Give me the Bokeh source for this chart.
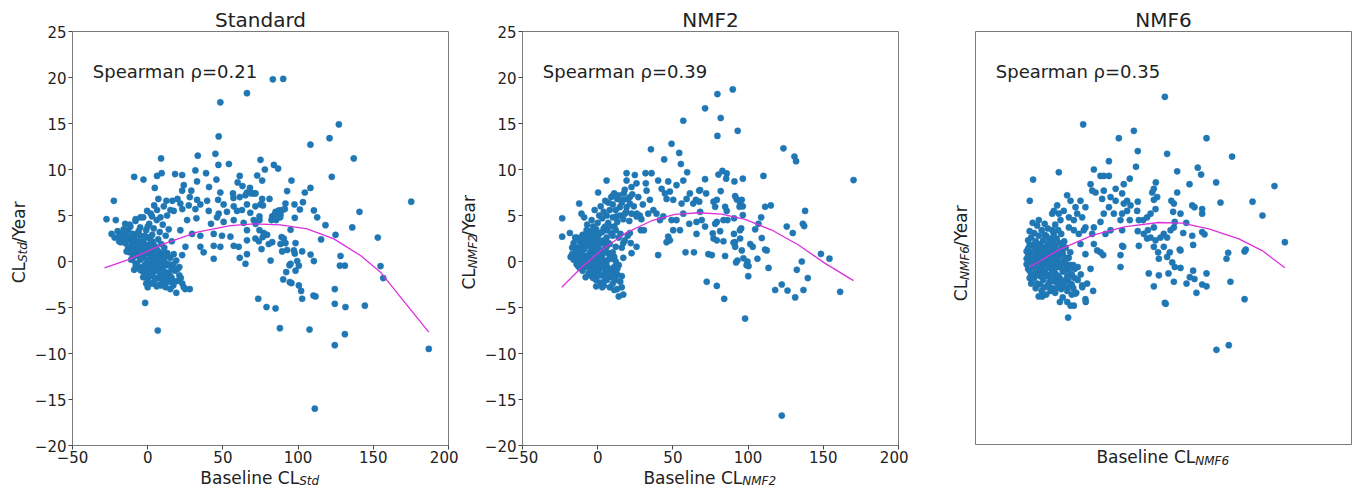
from math import pi
from bokeh.plotting import figure
from bokeh.layouts import row, column
from bokeh.models import Range1d, FixedTicker, Label
from bokeh.embed import file_html
from bokeh.resources import INLINE

FONT = "DejaVu Sans"
TXT = "#222222"
DOT = "#1f77b4"
FIT = "#dd30dd"

x_ticks = [-50, 0, 50, 100, 150, 200]
x_tick_labels = ["\u221250", "0", "50", "100", "150", "200"]
y_ticks = [-20, -15, -10, -5, 0, 5, 10, 15, 20, 25]
y_tick_labels = ["\u221220", "\u221215", "\u221210", "\u22125", "0", "5", "10", "15", "20", "25"]

titles = ["Standard", "NMF2", "NMF6"]
subscripts = ["Std", "NMF2", "NMF6"]
rho_texts = ["Spearman \u03c1=0.21", "Spearman \u03c1=0.39", "Spearman \u03c1=0.35"]

# ---------------- Standard ----------------
std_points = [
    (66, 18.3), (48.3, 17.3), (47.2, 13.6), (6.7, -7.5), (-1.7, -4.5), (8.9, 11.2), (33.3, 11.5), (45, 11.7),
    (54, 10.6), (47, 10.5), (-9, 9.2), (-2.8, 8.9), (6.2, 9.3), (9.3, 9.6), (18.2, 9.5), (22.9, 9.4), (31.7, 9.9),
    (38.8, 9.6), (61.2, 9.3), (45.7, 8.9), (32.8, 8.7), (59.8, 8.6), (4.7, 8.0), (24, 8.3), (22.9, 7.7), (29, 7.7),
    (40.8, 8.1), (48.3, 7.5), (56.7, 7.4), (66, 7.5), (70.5, 7.4), (-22.5, 6.6), (7.1, 6.8), (12.4, 6.6), (16.4, 6.6),
    (19.8, 6.8), (28, 7.0), (32.8, 6.7), (39.5, 6.6), (46.8, 6.7), (57, 6.9), (61.2, 7.0), (65, 7.2), (68.9, 7.4),
    (4.3, 6.1), (10.7, 6.0), (21.7, 6.3), (27.3, 6.1), (35, 6.2), (50.5, 6.2), (57.2, 6.0), (66, 6.2), (71.6, 6.0),
    (-0.4, 5.5), (6.2, 5.6), (15.1, 5.6), (17.3, 5.5), (23, 5.7), (31.7, 5.7), (40.6, 5.5), (47.2, 5.2), (52.7, 5.4),
    (59.4, 5.5), (62.7, 5.6), (68.2, 5.3), (-4.8, 4.8), (2.9, 4.9), (8.5, 4.8), (12.9, 5.0), (26.2, 4.5), (32.4, 4.7),
    (42.1, 4.1), (46.1, 4.8), (50.5, 4.3), (57.2, 4.5), (63.8, 4.2), (70.5, 4.5), (-27.4, 4.6), (-21.2, 4.5),
    (-15, 4.1), (-11.5, 3.8), (-8.1, 4.4), (21.7, 3.4), (29.5, 3.0), (35, 2.8), (43.9, 3.0), (49.4, 2.8), (55, 2.7),
    (66, 3.4), (25.1, 1.6), (35, 1.6), (37.2, 1.0), (43.9, 1.7), (48.3, 1.6), (57.2, 1.7), (60.5, 1.6), (66, 2.3),
    (71.6, 2.5), (17.3, 0.8), (22.9, 0.7), (43.9, 0.3), (61.2, 0.4), (65, -0.25), (66, 0.8), (63, 8.2), (68, 8.0),
    (83.2, 19.8), (90.1, 19.85), (127.1, 14.9), (120.9, 13.4), (108.2, 12.7), (137, 11.2), (75, 11.05), (83.9, 10.5),
    (86.7, 10.1), (77.9, 10.0), (72.8, 9.35), (76.1, 8.8), (95.6, 8.8), (122.4, 9.2), (108.2, 8.0), (104.5, 7.5),
    (92.7, 7.65), (76.1, 6.8), (81, 6.8), (71.7, 7.4), (75, 6.2), (76.6, 6.1), (175.2, 6.5), (97.6, 6.2), (91.6, 6.3),
    (103.2, 6.45), (101.2, 5.65), (110.5, 5.55), (140.8, 5.4), (112.7, 4.8), (85, 5.4), (87.2, 5.55), (89.4, 5.6),
    (91.2, 5.7), (82.8, 4.9), (84.5, 5.1), (88.3, 5.1), (74.3, 4.9), (74.3, 4.5), (82.3, 4.5), (85.4, 4.5),
    (88.1, 4.8), (97.8, 4.75), (95, 3.45), (118.2, 3.95), (136, 3.7), (124.9, 2.9), (115.3, 2.4), (153, 2.6),
    (71.7, 4.1), (74.3, 3.4), (77.2, 3.1), (79.4, 2.9), (76.5, 2.65), (73.9, 2.2), (80.5, 1.9), (75.7, 1.35),
    (88.3, 1.9), (91.6, 2.0), (89, 2.65), (90.5, 2.5), (98.3, 2.0), (82.8, 2.1), (89.4, 1.1), (92.7, 1.25),
    (97.2, 1.2), (97.8, 0.85), (102.7, 1.1), (108.3, 0.75), (110.5, 0.05), (81.7, 0.1), (95, -0.25), (94.3, -0.4),
    (99.4, 0.05), (100.5, -0.45), (98.3, -1.0), (92.1, -1.15), (95.6, -2.35), (94.5, -2.25), (90.1, -1.95),
    (100.5, -2.6), (102, -3.2), (102.7, -4.05), (110.2, -3.7), (111.6, -3.8), (124.4, -3.0), (128.2, 0.6),
    (131.1, -0.45), (127.8, -0.45), (154.8, -0.5), (156.6, -1.8), (124.4, -4.6), (131.5, -4.95), (144.4, -4.8),
    (73.5, -4.05), (79, -4.95), (85, -5.1), (87.9, -7.25), (107.6, -7.4), (131.1, -7.9), (124.4, -9.1),
    (186.9, -9.5), (111.1, -16.0),
]
std_cluster = [
    (-20, 3.3), (-19, 2.7), (-18, 3.0), (-17, 2.4), (-16, 3.5), (-15, 2.0), (-14, 2.8), (-13, 1.6), (-12, 2.4),
    (-11, 1.1), (-10, 3.0), (-10, 1.8), (-9, 0.6), (-9, 2.5), (-8, 1.4), (-8, -0.2), (-7, 2.1), (-7, 0.9), (-6, -0.6),
    (-6, 1.6), (-5, 0.2), (-5, 2.8), (-4, 1.2), (-4, -1.0), (-3, 0.5), (-3, 2.2), (-2, -0.4), (-2, 1.6), (-1, -1.4),
    (-1, 0.9), (0, 0.1), (0, 2.6), (0, -2.0), (1, 1.3), (1, -0.8), (2, 0.4), (2, -1.6), (2, 2.0), (3, -0.2), (3, 1.0),
    (4, -2.3), (4, 0.6), (4, -1.1), (5, 1.6), (5, -0.5), (6, -1.8), (6, 0.2), (7, -0.9), (7, 1.1), (8, -2.5),
    (8, -0.1), (9, -1.4), (9, 0.7), (10, -0.6), (10, -2.0), (11, -1.1), (11, 0.3), (12, -2.8), (12, -1.6),
    (13, -0.4), (14, -2.2), (14, -1.2), (15, -3.0), (16, -1.8), (17, -2.6), (18, -1.0), (19, -3.4), (20, -2.1),
    (21, -1.5), (23, -2.4), (25, -3.0), (28, -3.0), (22, -1.8), (24, -2.8), (-12, 4.0), (-8, 4.6), (-5, 3.7),
    (-3, 4.8), (-1, 3.4), (1, 4.1), (2, 5.2), (4, 3.6), (6, 4.5), (8, 3.2), (10, 4.0), (12, 2.8), (14, 3.5),
    (16, 2.2), (-6, 3.3), (0, 3.8), (3, 2.9), (7, 2.4), (9, 1.9), (11, 1.5), (13, 0.9), (15, 0.4), (17, -0.3),
    (19, 0.1), (21, -0.6), (-4, 0.4), (-2, 0.8), (0, 1.0), (2, -0.5), (4, 0.0), (6, -0.8), (8, -1.2), (-6, 0.6),
    (-1, -0.2), (1, 0.2), (3, -1.4), (5, -1.0), (7, -1.8), (-3, -0.6), (-7, 1.4), (-9, 1.7), (-11, 2.2),
    (-13, 2.6), (-15, 3.0), (-12, 1.0), (-10, 0.4), (-8, -0.6), (-5, -0.9), (-2, -1.2), (0, -1.0), (3, 0.3),
    (5, 0.5), (9, -0.4), (10, -1.4), (12, -0.2), (-24, 3.0), (-22, 2.6), (-19, 2.2),
    (-11, 0.2), (-10, 1.2), (-9, -0.9), (-7, -0.3), (-6, 2.2), (-5, 1.1), (-4, 2.0), (-3, -1.7), (-2, 2.8),
    (-1, 1.8), (0, -0.4), (1, -1.6), (1, 2.6), (2, 1.4), (3, 2.2), (4, 1.8), (5, -1.9), (6, 1.3), (7, 0.3),
    (8, 0.6), (9, -2.6), (10, 0.9), (11, -2.4), (12, 0.7), (13, -2.0), (14, -0.3), (15, -1.6), (16, -0.8),
    (18, -2.2), (20, -0.8), (-14, 1.1), (-16, 2.6), (-18, 2.1), (-13, 3.4), (-10, 2.4), (-7, 3.0), (0, -2.8),
    (3, -2.4), (6, -2.7), (-1, -2.4),
]
std_curve_x = [-28.7, -11.4, 10.7, 32.9, 55.1, 70.6, 88.3, 106, 123.8, 141.5, 154.8, 168.1, 186.9]
std_curve_y = [-0.69, 0.29, 1.92, 3.19, 3.91, 4.09, 3.99, 3.55, 2.46, 0.65, -1.16, -3.88, -7.68]

# ---------------- NMF2 ----------------
nmf2_points = [
    (56.9, 15.3), (49.1, 12.8), (35.4, 12.2), (44.2, 11.1), (54.2, 11.8), (55.3, 10.6), (58.4, 1.0), (64, 1.0),
    (65.7, 3.0), (67.5, 6.5), (67.5, 7.7), (59.5, 9.7), (56.9, 8.8), (52.4, 8.3), (61.3, 7.4), (59.1, 6.8),
    (55.8, 6.3), (63.5, 6.3), (65.3, 6.7), (56.9, 5.2), (52.4, 4.5), (50.2, 3.4), (54.7, 3.4), (60.9, 4.1),
    (65.7, 4.3), (46.9, 2.7), (48, 2.3), (45.8, 2.1), (49.1, 4.5), (43.6, 4.9), (39.1, 5.2), (41.4, 4.5), (37, 5.6),
    (33.6, 5.2), (34.7, 6.7), (32.5, 7.7), (32, 8.5), (35.8, 9.6), (31.8, 9.6), (40.2, 8.8), (42.5, 7.9),
    (44.7, 7.4), (48, 7.6), (45.8, 6.8), (50.2, 6.7), (46.9, 8.7), (40.2, 0.7), (25.8, 1.6), (21.4, 3.1),
    (28.7, 3.4), (30.7, 3.4), (25.8, 4.9), (22.5, 5.2), (28, 5.0), (19.2, 5.9), (17, 6.7), (21.4, 6.3), (18.1, 5.2),
    (22.5, 8.1), (21.4, 7.0), (17.4, 7.4), (19.2, 9.6), (19.2, 8.8), (24.7, 9.4), (25.8, 8.5), (14.7, 5.9),
    (12.5, 4.9), (15.2, 3.0), (17, 2.0), (10.3, 7.2), (5.9, 8.8), (0.3, 7.5), (-12.3, 6.3), (-23.6, 4.7),
    (-23.6, 2.7), (-18.5, 3.1), (-10.8, 5.2), (-7.4, 3.4), (17, 0.4), (22.5, 0.9),
    (79.6, 18.2), (89.8, 18.7), (71.4, 16.65), (81.8, 15.6), (79.6, 13.65), (93.1, 14.2),
    (80.3, 9.45), (82.9, 9.85), (85.8, 9.57), (85.4, 9.0), (71.4, 8.95), (90.9, 8.7), (96.5, 9.0), (110.2, 9.3),
    (68.1, 7.76), (72.1, 7.4), (81.8, 7.65), (77, 6.5), (79.2, 6.7), (78.1, 5.95), (84.7, 5.95), (85.8, 5.5),
    (91.4, 7.1), (92.5, 6.75), (94.7, 6.3), (95.8, 6.7), (96.5, 6.0), (94.3, 5.95), (111.3, 5.95), (115.1, 6.1),
    (137.9, 5.5), (108.7, 4.8), (69.2, 4.5), (71.4, 3.8), (78.1, 4.1), (79.2, 4.3), (83.6, 4.5), (86.3, 4.5),
    (90.7, 4.7), (96.5, 5.05), (81.4, 3.3), (76.5, 3.05), (77, 2.5), (79.2, 2.3), (83.6, 2.2), (95.4, 3.6),
    (104.7, 3.5), (106.9, 4.1), (125.7, 3.8), (129.7, 3.1), (136.4, 4.1), (137.3, 3.85), (94.7, 2.5), (90.3, 2.05),
    (91.4, 1.6), (95.8, 1.2), (101.4, 1.9), (103.1, 1.6), (109.1, 2.55), (111.3, 1.3), (112.4, 1.2), (73.6, 0.8),
    (75.9, 0.7), (84.7, 0.6), (92, -0.1), (92.9, 0.1), (96.9, 0.35), (99.6, 0.0), (100.3, -0.5), (106.2, 0.3),
    (113.6, -0.7), (72.5, -2.2), (79.2, -2.65), (84.1, -4.06), (98, -6.2), (122.4, -16.75), (118, -3.1),
    (122.4, -2.5), (126.2, -3.16), (131.3, -3.9), (136.8, -3.1), (132.4, -0.9), (135.7, 0.0), (139.7, -1.8),
    (148.4, 0.82), (154.1, 0.31), (161.2, -3.3), (170.1, 8.85), (123.5, 12.3), (130.8, 11.4), (131.9, 10.9),
    (68.1, 5.4), (100.1, -1.6), (99, -0.4), (94.6, 3.4), (90.6, 3.0), (91.3, 2.1),
]
nmf2_cluster = [
    (-18, 0.5), (-17, 1.5), (-16, 0.2), (-16, 2.0), (-15, 0.9), (-14, -0.3), (-14, 2.6), (-13, 1.4), (-13, 0.1),
    (-12, 2.2), (-12, -0.7), (-11, 0.8), (-11, 1.8), (-10, -1.0), (-10, 2.9), (-10, 0.3), (-9, 1.3), (-9, -0.4),
    (-8, 2.4), (-8, 0.6), (-8, -1.7), (-7, 1.7), (-7, -0.6), (-6, 0.1), (-6, 2.9), (-6, -1.3), (-5, 1.0), (-5, 2.0),
    (-5, -0.2), (-4, -1.6), (-4, 0.6), (-4, 2.6), (-3, -0.5), (-3, 1.5), (-3, 3.2), (-2, 0.2), (-2, -1.1),
    (-2, 2.1), (-1, 0.9), (-1, -2.0), (-1, 3.5), (0, -0.3), (0, 1.6), (0, -1.4), (0, 2.6), (1, 0.4), (1, -0.9),
    (1, 3.0), (2, -2.3), (2, 1.2), (2, -0.2), (3, 2.0), (3, -1.5), (3, 0.7), (4, -0.6), (4, 3.6), (4, -2.6),
    (5, 1.4), (5, -1.2), (5, 0.1), (6, 2.6), (6, -2.0), (6, -0.5), (7, 0.9), (7, -1.6), (7, 4.2), (8, -0.9),
    (8, 1.9), (8, -2.8), (9, 0.3), (9, -1.7), (9, 3.1), (10, -1.2), (10, -2.4), (11, 0.5), (11, -0.6), (12, -2.0),
    (12, 1.6), (13, -1.4), (13, -3.0), (14, -0.4), (15, -2.2), (16, -1.6), (16, -2.8), (14, -3.8), (17, -3.6),
    (11, -3.1), (-1, -2.7), (3, -2.8), (-7, 4.0), (-4, 4.5), (-2, 5.6), (0, 4.2), (1, 5.0), (2, 6.0), (3, 4.7),
    (4, 5.4), (5, 6.6), (5, 3.8), (6, 5.0), (7, 6.4), (8, 5.6), (9, 7.0), (10, 4.8), (10, 6.2), (11, 7.4),
    (11, 3.8), (12, 5.6), (13, 6.8), (13, 4.3), (14, 7.2), (15, 5.0), (16, 6.4), (17, 4.6), (18, 7.8), (19, 5.4),
    (20, 6.8), (21, 4.4), (23, 7.3), (24, 6.0), (26, 5.2), (27, 7.0), (29, 4.6), (30, 6.2), (-9, 4.8), (-6, 3.3),
    (-3, 3.8), (-1, 2.2), (1, 1.9), (4, 2.3), (6, 3.4), (8, 3.8), (10, 2.8), (12, 3.4), (14, 2.6), (16, 1.5),
    (18, 2.3), (20, 2.8), (22, 2.0), (-15, 2.6), (-11, -0.2), (-7, 0.6), (-3, -1.8), (-1, 0.1), (2, 0.6),
    (-13, -0.5), (-12, 0.9), (-11, 2.6), (-10, 1.4), (-9, 0.0), (-9, 2.1), (-8, -0.3), (-7, 2.6), (-6, -0.6),
    (-5, -0.9), (-4, 1.3), (-3, 0.6), (-2, -0.5), (-1, 1.5), (0, 0.6), (1, -1.5), (1, 2.2), (2, 0.2), (3, -0.6),
    (4, 1.0), (5, -2.0), (6, 0.0), (7, 2.0), (8, 0.4), (9, -0.8), (10, 1.0), (11, -1.8), (12, 0.0), (13, -0.8),
    (-15, 1.6), (-17, 0.8), (-14, 0.5), (6, 1.6), (3, 3.2), (-2, 3.0),
]
nmf2_curve_x = [-23.9, -10.6, 2.7, 18.2, 35.9, 51.4, 67, 82.5, 98, 115.7, 133.5, 151.2, 170.1]
nmf2_curve_y = [-2.8, -0.63, 1.25, 3.05, 4.43, 5.12, 5.3, 5.15, 4.57, 3.42, 1.79, -0.2, -2.08]

# ---------------- NMF6 ----------------
nmf6_points = [
    (75.9, 17.9), (21.6, 14.9), (55.3, 14.2), (45.3, 13.4), (57.9, 12.0), (77.4, 11.7), (38.7, 10.9), (56.7, 10.3),
    (84.1, 9.8), (28.7, 10.0), (5.4, 9.7), (-11.7, 8.9), (69.9, 8.6), (-13.9, 6.6), (85.8, 1.3), (75.9, -4.5),
    (76.5, -4.6), (65.2, -1.3), (68.6, -2.7), (71.9, -1.5), (78.3, -1.3), (81.9, -2.2), (82.5, -0.6), (80.8, -0.1),
    (77.4, 0.5), (79.2, 1.0), (75.2, 1.6), (71.9, 0.3), (71.4, 1.0), (68.6, 1.6), (69.7, 2.3), (66.4, 2.6),
    (64.1, 2.5), (61.9, 3.0), (58.6, 1.7), (57.9, 3.3), (64.6, 3.4), (68.6, 3.7), (73, 2.6), (75.2, 3.0),
    (77.4, 2.6), (79.7, 3.4), (81.9, 3.7), (82.5, 4.3), (86.3, 5.2), (81.4, 5.4), (81.9, 6.3), (80.2, 6.6),
    (84.1, 7.5), (70.8, 7.0), (67.5, 7.5), (68.6, 7.9), (68.6, 6.7), (69.7, 5.7), (66.4, 5.2), (64.1, 4.8),
    (61.5, 4.5), (58.6, 4.5), (57.5, 5.5), (57.9, 6.5), (53.1, 6.1), (50.8, 5.5), (50.8, 6.6), (48.6, 6.3),
    (47.5, 5.2), (46.4, 4.5), (52.6, 4.5), (47.5, 3.4), (47.5, 1.7), (46.4, 0.7), (48.2, 1.6), (39.8, 3.4),
    (36.4, 3.0), (33.1, 1.0), (34.9, 0.7), (30.9, 1.2), (28.7, 1.9), (27.6, 3.0), (28.7, 3.7), (33.1, 4.3),
    (35.3, 5.2), (38.7, 5.9), (42, 5.2), (43.2, 6.6), (39.8, 7.0), (35.3, 7.7), (34.2, 6.8), (26.5, 8.4),
    (27.6, 7.7), (29.8, 7.5), (33.1, 9.3), (35.3, 9.3), (38.7, 9.3), (43.2, 7.9), (47.5, 7.4), (48.6, 8.4),
    (52.6, 9.0), (46.4, -0.6), (23.1, 5.9), (19.8, 6.6), (16.5, 5.9), (13.2, 6.6), (10.9, 7.2), (23.1, 3.7),
    (20.9, 4.8), (17.6, 5.2), (15.4, 4.5), (12.1, 4.8), (8.7, 5.5), (5.4, 5.2), (2.1, 5.5), (4.3, 6.1),
    (6.5, 4.5), (12.1, 3.7), (15.4, 3.4), (18.7, 3.0), (22, 3.4), (19.8, 1.9), (23.1, 0.8), (26.5, -0.8),
    (28.2, -3.2), (23.1, -4.1), (23.3, -4.4), (15.4, -4.8), (13.2, -4.8), (11.6, -6.1), (6.1, -4.4),
    (-5.7, -3.8), (16.3, -3.5), (-0.1, -3.2), (3.2, -3.0), (11, -2.8), (20.9, -2.6), (24.2, -2.4), (-7.9, 4.5),
    (1, 5.2),
    (103.6, 13.4), (120.6, 11.4), (97.8, 10.2), (100.0, 9.45), (92.3, 8.4), (110, 8.6), (148.8, 8.2), (94.1, 6.1),
    (95.6, 5.9), (100.7, 5.7), (100.7, 5.2), (112.9, 6.4), (134.2, 6.5), (140.8, 5.0), (155.7, 2.1), (90.1, 4.2),
    (88.1, 3.1), (94.1, 2.8), (94.7, 1.8), (100.7, 3.2), (102.3, 2.95), (86.3, 1.2), (118, 0.95), (116.9, 0.3),
    (128.9, 1.1), (129.7, 1.3), (86.3, -0.7), (94.7, -1.0), (92.5, -1.7), (95.6, -1.9), (90.3, -2.4), (103.6, -1.3),
    (100.7, -2.5), (103.6, -2.7), (96.9, -3.4), (119.5, -2.2), (128.9, -4.1), (110.2, -9.6), (118.4, -9.1),
]
nmf6_cluster = [
    (-15, 0.6), (-15, -0.8), (-14, 1.8), (-14, 0.0), (-13, -1.4), (-13, 1.0), (-13, 2.6), (-12, 0.3), (-12, -0.6),
    (-12, 1.8), (-11, -1.8), (-11, 0.9), (-11, 3.1), (-10, -0.2), (-10, 2.2), (-10, -1.2), (-9, 1.4), (-9, 0.2),
    (-9, -2.4), (-8, 2.8), (-8, -0.8), (-8, 0.8), (-7, -1.6), (-7, 1.9), (-7, 0.0), (-6, -0.5), (-6, 3.4),
    (-6, 1.2), (-5, -2.0), (-5, 0.4), (-5, 2.3), (-4, -1.0), (-4, 1.5), (-4, -2.8), (-3, 0.8), (-3, -0.3),
    (-3, 2.8), (-2, -1.6), (-2, 0.1), (-2, 1.9), (-1, -0.7), (-1, 1.1), (-1, -2.3), (0, 0.5), (0, 2.4), (0, -1.4),
    (1, -0.2), (1, 1.6), (1, -2.9), (2, 0.9), (2, -1.0), (2, 3.0), (3, -0.4), (3, -2.2), (3, 1.8), (4, 0.3),
    (4, -1.5), (4, 2.5), (5, -0.6), (5, 1.2), (5, -2.6), (6, -1.8), (6, 0.6), (6, 2.0), (7, -0.2), (7, -3.0),
    (7, 1.4), (8, -1.1), (8, 0.9), (9, -2.2), (9, 0.1), (9, 2.2), (10, -0.8), (10, 1.5), (11, -1.6), (11, -3.2),
    (12, 0.4), (12, -0.9), (13, -2.4), (13, 1.0), (14, -1.4), (15, -0.4), (15, -2.9), (16, -1.8), (17, -3.4),
    (18, -2.0), (18, -0.6), (20, -1.4), (21, -2.8), (-2, 3.6), (1, 3.4), (3, 4.0), (5, 3.4), (7, 3.0), (-9, 3.9),
    (-12, 4.2), (-4, 4.1), (-14, 3.3), (-15, 2.3), (-16, 1.1), (-16, -0.3), (-14, -1.8), (-10, -2.9), (-6, -3.2),
    (-3, -3.6), (0, -3.0), (3, -3.4), (8, -3.9), (11, -4.4), (14, -3.6), (-8, -3.8), (-1, 0.0), (1, 0.5),
    (-3, 1.3), (5, 0.0), (-5, -1.0), (8, -0.2), (3, 0.4), (-7, 0.9), (0, -0.7), (2, -0.3),
    (-14, -1.0), (-13, 0.2), (-12, -1.5), (-11, -0.5), (-11, 1.6), (-10, 0.6), (-9, -1.3), (-8, 0.0), (-8, 1.8),
    (-7, -2.5), (-6, 0.3), (-6, -1.3), (-5, 1.5), (-4, -0.2), (-4, 2.9), (-3, -1.4), (-2, 1.0), (-2, -2.6),
    (-1, 2.5), (0, 1.4), (0, -2.1), (1, -1.2), (1, 2.4), (2, -2.0), (2, 1.9), (3, -1.3), (4, -0.6), (4, 1.2),
    (5, -1.6), (6, -0.6), (6, 1.0), (7, -2.2), (8, -2.6), (8, 1.8), (9, -1.0), (10, -2.0), (10, 0.4), (11, -0.3),
    (12, -1.8), (13, -0.4), (14, -2.5), (16, -0.8), (-16, 0.3), (-15, 1.4), (-13, -2.4),
]
nmf6_curve_x = [-14.1, 5.4, 27.6, 49.7, 71.9, 87.4, 105.1, 125.1, 140.6, 155.7]
nmf6_curve_y = [-0.62, 1.27, 2.83, 3.8, 4.24, 4.17, 3.55, 2.46, 1.19, -0.69]

# approximate DejaVu Sans advance widths (em), used to join label pieces
W_BASELINE_CL = 5.813
W_CL = 1.255
W_YEAR = 2.587
W_SUB = {"Std": 1.662, "NMF2": 2.822, "NMF6": 2.822}

FRAME_W = 376
FRAME_H = 414
LABEL_PX = 17
SUB_PX = 12
TOP = 31            # space above the frame (holds the title)
TOTAL_H = 492


def strip(w, h):
    f = figure(width=w, height=h, x_range=Range1d(0, w), y_range=Range1d(0, h),
               output_backend="svg", toolbar_location=None, title=None,
               min_border=0, x_axis_location=None, y_axis_location=None)
    f.grid.visible = False
    f.outline_line_color = None
    f.background_fill_color = "white"
    f.border_fill_color = "white"
    return f


def txt(f, x, y, text, size, align="left", italic=False, angle=0.0):
    f.add_layout(Label(x=x, y=y, text=text, text_align=align, text_baseline="middle",
                       angle=angle, text_font=FONT, text_font_size=f"{size}px",
                       text_font_style="italic" if italic else "normal", text_color=TXT))


def make_panel(i, pts, cluster, cx, cy, show_axes, ylab_w, b_left, b_right, b_bottom,
               ylab_cx, xlab_cy_abs):
    p = figure(frame_width=FRAME_W, frame_height=FRAME_H,
               x_range=Range1d(-50, 200), y_range=Range1d(-20, 25),
               output_backend="svg", toolbar_location=None, title=titles[i],
               min_border_left=b_left, min_border_right=b_right,
               min_border_top=TOP, min_border_bottom=b_bottom,
               x_axis_location="below" if show_axes else None,
               y_axis_location="left" if show_axes else None)
    p.title.align = "center"
    p.title.text_font = FONT
    p.title.text_font_size = "20px"
    p.title.text_font_style = "normal"
    p.title.text_color = TXT
    p.title.standoff = 0
    p.title.offset = 0
    p.grid.visible = False
    p.outline_line_color = "#7a7a7a"
    p.outline_line_width = 1
    p.background_fill_color = "white"
    p.border_fill_color = "white"
    if show_axes:
        p.xaxis.ticker = FixedTicker(ticks=x_ticks)
        p.yaxis.ticker = FixedTicker(ticks=y_ticks)
        p.xaxis.major_label_overrides = dict(zip(x_ticks, x_tick_labels))
        p.yaxis.major_label_overrides = dict(zip(y_ticks, y_tick_labels))
        for ax in p.axis:
            ax.axis_line_color = "#7a7a7a"
            ax.major_tick_line_color = "#444444"
            ax.major_tick_in = 0
            ax.major_tick_out = 4
            ax.minor_tick_line_color = None
            ax.major_label_text_font = FONT
            ax.major_label_text_font_size = "15px"
            ax.major_label_text_color = TXT
        p.xaxis.major_label_standoff = 1
        p.yaxis.major_label_standoff = 2

    xs = [a for a, b in pts] + [a for a, b in cluster]
    ys = [b for a, b in pts] + [b for a, b in cluster]
    p.scatter(xs, ys, size=6.2, fill_color=DOT, line_color=DOT, line_width=0.5)
    p.line(cx, cy, line_color=FIT, line_width=1.3)
    p.add_layout(Label(x=-36.5, y=20.65, text=rho_texts[i], text_align="left",
                       text_baseline="middle", text_font=FONT,
                       text_font_size="18px", text_color=TXT))

    main_h = TOP + FRAME_H + b_bottom
    col_w = ylab_w + b_left + FRAME_W + b_right
    cx_frame = ylab_w + b_left + FRAME_W / 2
    sub = subscripts[i]
    w_sub = W_SUB[sub] * SUB_PX + 1.5

    # y label strip (rotated text, vertically centred on the frame)
    yl = strip(ylab_w, main_h)
    ytotal = W_CL * LABEL_PX + w_sub + W_YEAR * LABEL_PX
    ysplit = b_bottom + FRAME_H / 2 - ytotal / 2 + W_CL * LABEL_PX
    txt(yl, ylab_cx, ysplit, "CL", LABEL_PX, align="right", angle=pi / 2)
    txt(yl, ylab_cx + 3.5, ysplit, sub, SUB_PX, align="left", italic=True, angle=pi / 2)
    txt(yl, ylab_cx, ysplit + w_sub, "/Year", LABEL_PX, align="left", angle=pi / 2)

    # x label strip
    xl_h = TOTAL_H - main_h
    xl = strip(col_w, xl_h)
    total = W_BASELINE_CL * LABEL_PX + w_sub
    split = cx_frame - total / 2 + W_BASELINE_CL * LABEL_PX
    y_main = xl_h - (xlab_cy_abs - main_h)
    txt(xl, split, y_main, "Baseline CL", LABEL_PX, align="right")
    txt(xl, split, y_main - 3.5, sub, SUB_PX, align="left", italic=True)

    return column(row(yl, p), xl)


c1 = make_panel(0, std_points, std_cluster, std_curve_x, std_curve_y, True,
                30, 42, 10, 22, 18.8, 477)
c2 = make_panel(1, nmf2_points, nmf2_cluster, nmf2_curve_x, nmf2_curve_y, True,
                22, 42, 10, 22, 10.8, 477)
c3 = make_panel(2, nmf6_points, nmf6_cluster, nmf6_curve_x, nmf6_curve_y, False,
                67, 0, 5, 0, 52.8, 456.5)

layout = row(c1, c2, c3)
open("out.html", "w").write(file_html(layout, INLINE))
